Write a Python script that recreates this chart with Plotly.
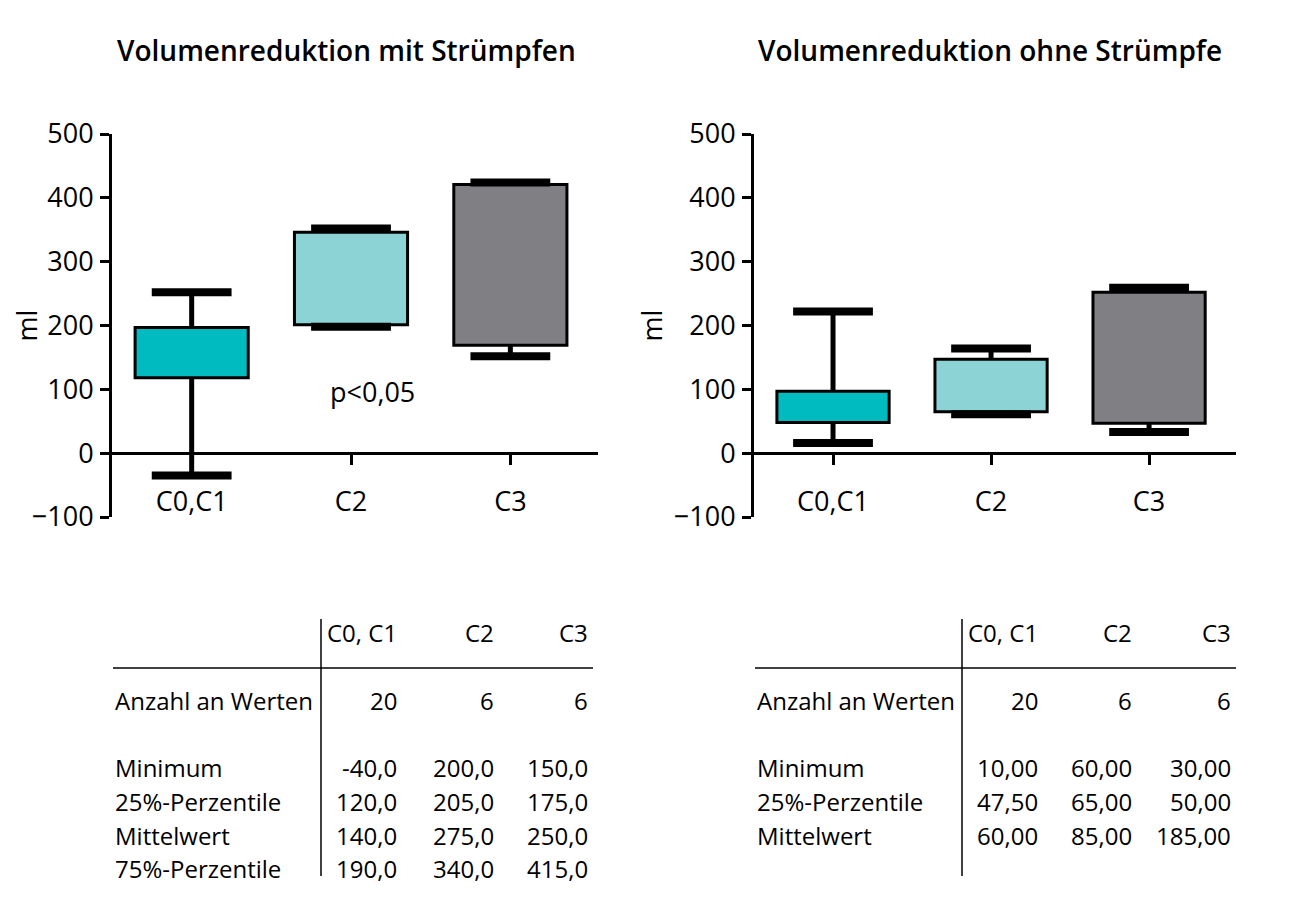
import plotly.graph_objects as go

# ---------------- data ----------------
categories = ["C0,C1", "C2", "C3"]

mit_min = [-35, 198, 152]
mit_q1 = [118, 201, 169]
mit_q3 = [197, 346, 421]
mit_max = [252, 352, 424]

ohne_min = [16, 61, 33]
ohne_q1 = [48, 65, 47]
ohne_q3 = [97, 147, 252]
ohne_max = [222, 164, 259]

box_colors = ["#00BCC0", "#8CD3D6", "#808084"]

title_left = "Volumenreduktion mit Strümpfen"
title_right = "Volumenreduktion ohne Strümpfe"
y_title = "ml"
y_ticks = [-100, 0, 100, 200, 300, 400, 500]
p_text = "p<0,05"

table_cols = ["C0, C1", "C2", "C3"]
table_left_labels = ["Anzahl an Werten", "Minimum", "25%-Perzentile", "Mittelwert", "75%-Perzentile"]
table_left_values = [
    ["20", "6", "6"],
    ["-40,0", "200,0", "150,0"],
    ["120,0", "205,0", "175,0"],
    ["140,0", "275,0", "250,0"],
    ["190,0", "340,0", "415,0"],
]
table_right_labels = ["Anzahl an Werten", "Minimum", "25%-Perzentile", "Mittelwert"]
table_right_values = [
    ["20", "6", "6"],
    ["10,00", "60,00", "30,00"],
    ["47,50", "65,00", "50,00"],
    ["60,00", "85,00", "185,00"],
]

# ---------------- layout helpers ----------------
W, H = 1293, 900
OFF = 8  # page body margin
FONT = "Open Sans"
YMIN, YMAX = -100, 500


def px_x(p):
    return (p - OFF) / W


def px_y(p):
    return 1 - (p - OFF) / H


fig = go.Figure()


def add_panel(xref, yref, qmin, q1, q3, qmax):
    # boxes (25%-75%)
    fig.add_trace(go.Bar(
        x=categories, y=[b - a for a, b in zip(q1, q3)], base=q1,
        width=0.71, marker=dict(color=box_colors, line=dict(color="black", width=3)),
        xaxis=xref, yaxis=yref, hoverinfo="skip", showlegend=False,
    ))
    # whiskers
    wx, wy = [], []
    for c, lo, a, b, hi in zip(categories, qmin, q1, q3, qmax):
        wx += [c, c, None, c, c, None]
        wy += [b, hi, None, lo, a, None]
    fig.add_trace(go.Scatter(
        x=wx, y=wy, mode="lines", line=dict(color="black", width=5),
        xaxis=xref, yaxis=yref, hoverinfo="skip", showlegend=False,
    ))
    # caps
    fig.add_trace(go.Scatter(
        x=categories + categories, y=list(qmin) + list(qmax), mode="markers",
        marker=dict(symbol="line-ew", size=57, line=dict(color="black", width=8)),
        xaxis=xref, yaxis=yref, hoverinfo="skip", showlegend=False,
    ))


add_panel("x", "y", mit_min, mit_q1, mit_q3, mit_max)
add_panel("x2", "y2", ohne_min, ohne_q1, ohne_q3, ohne_max)

ydom = [px_y(517), px_y(134)]
zero_pos = ydom[0] + (0 - YMIN) / (YMAX - YMIN) * (ydom[1] - ydom[0])

xaxis_common = dict(
    type="category", categoryorder="array", categoryarray=categories,
    range=[-0.5, 2.55], anchor="free", position=zero_pos,
    showline=True, linecolor="black", linewidth=2.5,
    ticks="outside", ticklen=10, tickwidth=3, tickcolor="black",
    tickfont=dict(family=FONT, size=27, color="black"),
    ticklabelstandoff=14, showgrid=False, zeroline=False, fixedrange=True,
    automargin=False,
)
yaxis_common = dict(
    range=[YMIN, YMAX], domain=ydom, tickvals=y_ticks,
    showline=True, linecolor="black", linewidth=3,
    ticks="outside", ticklen=9, tickwidth=3, tickcolor="black",
    tickfont=dict(family=FONT, size=27, color="black"),
    ticklabelstandoff=1, showgrid=False, zeroline=False, fixedrange=True,
    automargin=False,
    title=dict(text=y_title, font=dict(family=FONT, size=27, color="black"), standoff=4),
)

fig.update_layout(
    width=W, height=H, margin=dict(l=0, r=0, t=0, b=0, autoexpand=False),
    paper_bgcolor="white", plot_bgcolor="rgba(0,0,0,0)", showlegend=False,
    barmode="overlay",
    xaxis=dict(domain=[px_x(112), px_x(598)], **xaxis_common),
    yaxis=dict(anchor="x", **yaxis_common),
    xaxis2=dict(domain=[px_x(754), px_x(1236)], **xaxis_common),
    yaxis2=dict(anchor="x2", **yaxis_common),
)

# titles
for t, cx in [(title_left, 346), (title_right, 990)]:
    fig.add_annotation(text=t, x=px_x(cx), y=px_y(50), xref="paper", yref="paper",
                       xanchor="center", yanchor="middle", showarrow=False,
                       font=dict(family=FONT, size=28, color="black", weight=600))

# p-value label
fig.add_annotation(text=p_text, x=1, y=97, xref="x", yref="y", xshift=21,
                   xanchor="center", yanchor="middle",
                   showarrow=False, font=dict(family=FONT, size=27, color="black"))


# tables
def add_table(x0, vline_x, col_right, labels, values):
    tfont = dict(family=FONT, size=24, color="black")
    header_y = 632
    row_ys = [700, 767, 801, 835, 868]
    for c, xr in zip(table_cols, col_right):
        fig.add_annotation(text=c, x=px_x(xr), y=px_y(header_y), xref="paper", yref="paper",
                           xanchor="right", yanchor="middle", showarrow=False, font=tfont)
    for lab, vals, yy in zip(labels, values, row_ys):
        fig.add_annotation(text=lab, x=px_x(x0), y=px_y(yy), xref="paper", yref="paper",
                           xanchor="left", yanchor="middle", showarrow=False, font=tfont)
        for v, xr in zip(vals, col_right):
            fig.add_annotation(text=v, x=px_x(xr), y=px_y(yy), xref="paper", yref="paper",
                               xanchor="right", yanchor="middle", showarrow=False, font=tfont)
    fig.add_shape(type="line", xref="paper", yref="paper",
                  x0=px_x(x0), x1=px_x(col_right[-1] + 3), y0=px_y(668), y1=px_y(668),
                  line=dict(color="black", width=1.5))
    fig.add_shape(type="line", xref="paper", yref="paper",
                  x0=px_x(vline_x), x1=px_x(vline_x), y0=px_y(619), y1=px_y(876),
                  line=dict(color="black", width=1.5))


add_table(113, 321, [399, 496, 590], table_left_labels, table_left_values)
add_table(755, 962, [1040, 1134, 1233], table_right_labels, table_right_values)

fig.write_html("out.html")
